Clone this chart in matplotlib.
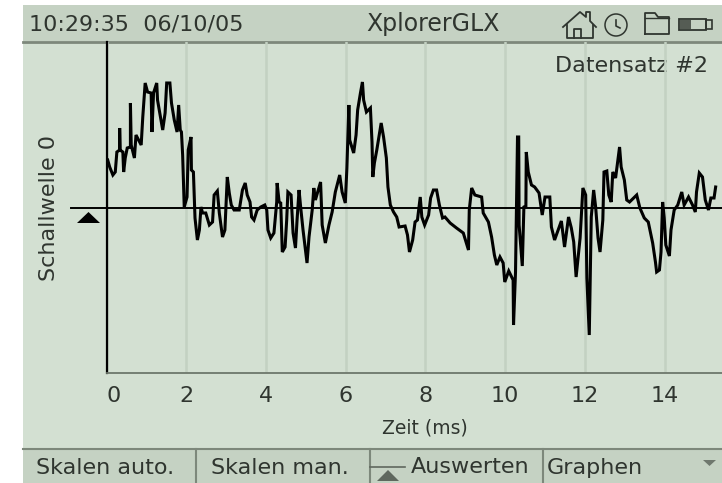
import matplotlib
matplotlib.use('Agg')
import matplotlib.pyplot as plt
from matplotlib.patches import Rectangle, Polygon, Circle

zeit_ms = [0.00, 0.05, 0.13, 0.19, 0.23, 0.30, 0.30, 0.31, 0.38, 0.40, 0.44, 0.49, 0.57, 0.57, 0.59, 0.67,
           0.71, 0.84, 0.88, 0.94, 1.00, 1.09, 1.11, 1.15, 1.23, 1.25, 1.38, 1.44, 1.48, 1.56, 1.60, 1.67,
           1.74, 1.78, 1.82, 1.85, 1.88, 1.92, 1.99, 2.02, 2.09, 2.10, 2.15, 2.19, 2.25, 2.30, 2.34, 2.38,
           2.46, 2.55, 2.63, 2.67, 2.75, 2.80, 2.88, 2.94, 2.99, 3.00, 3.05, 3.10, 3.17, 3.30, 3.38, 3.45,
           3.50, 3.57, 3.61, 3.67, 3.75, 3.84, 3.94, 3.99, 4.02, 4.09, 4.17, 4.24, 4.25, 4.30, 4.34, 4.38,
           4.45, 4.49, 4.52, 4.60, 4.65, 4.71, 4.75, 4.80, 4.84, 4.90, 5.00, 5.05, 5.13, 5.17, 5.21, 5.34,
           5.38, 5.46, 5.55, 5.63, 5.71, 5.82, 5.88, 5.96, 6.00, 6.05, 6.07, 6.17, 6.23, 6.27, 6.34, 6.39,
           6.42, 6.49, 6.59, 6.63, 6.65, 6.69, 6.75, 6.86, 6.92, 6.99, 7.03, 7.09, 7.17, 7.25, 7.31, 7.46,
           7.52, 7.57, 7.65, 7.71, 7.77, 7.84, 7.88, 7.95, 8.05, 8.10, 8.17, 8.25, 8.32, 8.40, 8.46, 8.59,
           8.75, 8.92, 9.05, 9.07, 9.13, 9.21, 9.38, 9.42, 9.55, 9.63, 9.70, 9.76, 9.84, 9.92, 9.96, 10.06,
           10.17, 10.18, 10.23, 10.28, 10.31, 10.32, 10.40, 10.44, 10.49, 10.50, 10.55, 10.63, 10.71, 10.82,
           10.90, 10.97, 11.06, 11.09, 11.13, 11.21, 11.30, 11.38, 11.46, 11.56, 11.63, 11.69, 11.75, 11.80,
           11.85, 11.92, 11.99, 12.02, 12.08, 12.13, 12.19, 12.24, 12.30, 12.35, 12.42, 12.45, 12.52, 12.57,
           12.63, 12.67, 12.74, 12.84, 12.88, 12.96, 13.02, 13.09, 13.27, 13.35, 13.46, 13.56, 13.67, 13.74,
           13.77, 13.84, 13.88, 13.92, 13.96, 14.00, 14.09, 14.13, 14.21, 14.30, 14.40, 14.46, 14.57, 14.67,
           14.74, 14.77, 14.84, 14.92, 14.99, 15.07, 15.13, 15.21, 15.25]
schallwelle = [48, 41, 33, 36, 56, 58, 80, 58, 56, 36, 50, 60, 61, 105, 63, 50,
               73, 63, 91, 125, 116, 115, 76, 115, 125, 108, 78, 95, 125, 125, 105, 88,
               76, 103, 78, 76, 53, 1, 11, 58, 71, 38, 36, -10, -32, -22, 1, -5,
               -5, -17, -14, 13, 17, -5, -29, -22, 21, 31, 15, 3, -2, -2, 18, 25,
               13, 6, -9, -12, -2, 1, 3, -2, -22, -30, -25, 6, 25, 6, 5, -44,
               -39, -12, 16, 13, -25, -40, -12, 18, 1, -22, -55, -29, -2, 20, 8, 26,
               -17, -35, -17, -4, 16, 33, 16, 5, 40, 103, 68, 55, 73, 98, 115, 126,
               108, 96, 100, 66, 31, 45, 58, 85, 71, 50, 21, 3, -4, -9, -19, -18,
               -27, -44, -32, -14, -12, 11, -9, -17, -7, 10, 18, 18, 3, -10, -9, -15,
               -20, -25, -42, -2, 20, 13, 11, -5, -14, -29, -47, -57, -49, -55, -74, -63,
               -72, -117, -64, 71, 71, -17, -58, 1, 2, 56, 36, 23, 21, 15,
               -7, 11, 11, 11, -19, -32, -22, -13, -39, -9, -20, -34, -69, -49,
               -30, 20, 13, -70, -127, -9, 18, 1, -30, -44, -12, 36, 37, 13,
               6, 36, 30, 61, 41, 28, 8, 6, 13, 0, -10, -14, -35, -54,
               -64, -62, -44, 6, -10, -37, -48, -22, -2, 3, 16, 3, 11, 3,
               -4, 16, 35, 31, 8, -2, 10, 10, 21]
x_ticks = [0, 2, 4, 6, 8, 10, 12, 14]

PANEL = '#d3e0d2'
BAR = '#c5d2c3'
EDGE = '#7d887b'
TEXT = '#2f352f'
W, H = 722, 483
FS = 16
PX_MS = 39.93  # Pixel pro ms
T0 = 105.5  # Pixel von t=0
VERSATZ = 0.03  # Kurve beginnt knapp rechts vom Nullpunkt

plt.rcParams['font.family'] = ['DejaVu Sans']
fig = plt.figure(figsize=(W / 100, H / 100), dpi=100, facecolor='white')

# Geraeterahmen in Pixelkoordinaten
ui = fig.add_axes([0, 0, 1, 1])
ui.set_xlim(0, W)
ui.set_ylim(H, 0)
ui.axis('off')
ui.add_patch(Rectangle((23, 5), W - 23, H - 5, fc=PANEL, ec='none'))
ui.add_patch(Rectangle((23, 5), W - 23, 36, fc=BAR, ec='none'))
ui.add_patch(Rectangle((23, 449), W - 23, H - 449, fc=BAR, ec='none'))
ui.plot([23, W], [41.5, 41.5], color=EDGE, lw=2)
ui.plot([23, W], [448.5, 448.5], color=EDGE, lw=1.5)
for xd in [196, 370, 543]:
    ui.plot([xd, xd], [449, H], color=EDGE, lw=1.5)

ui.text(29, 24, '10:29:35  06/10/05', fontsize=FS, color=TEXT, va='center', ha='left')
ui.text(433, 24, 'XplorerGLX', fontsize=FS + 1, color=TEXT, va='center', ha='center')
ui.text(36, 468, 'Skalen auto.', fontsize=FS, color=TEXT, va='center')
ui.text(211, 468, 'Skalen man.', fontsize=FS, color=TEXT, va='center')
ui.text(411, 467, 'Auswerten', fontsize=FS, color=TEXT, va='center')
ui.text(547, 468, 'Graphen', fontsize=FS, color=TEXT, va='center')
ui.plot([370, 405], [466.5, 466.5], color='#5f685e', lw=1.2)
ui.add_patch(Polygon([[377, 481], [399, 481], [388, 470]], fc='#5f685e', ec='none'))
ui.add_patch(Polygon([[703, 460], [716, 460], [709.5, 466]], fc='#6f786e', ec='none'))
ui.add_patch(Polygon([[77, 223], [100, 223], [88.5, 212]], fc='black', ec='none'))

# Symbole oben rechts
ui.plot([563, 580, 586, 586, 590, 590, 596], [27, 12, 17, 12, 12, 21, 27], color=TEXT, lw=1.3)
ui.plot([567, 567, 593, 593], [25, 38, 38, 25], color=TEXT, lw=1.3)
ui.plot([574, 574, 581, 581], [38, 29, 29, 38], color=TEXT, lw=1.3)
ui.add_patch(Circle((616, 25), 11, fc='none', ec=TEXT, lw=1.1))
ui.plot([616, 616, 620], [20, 26, 28], color=TEXT, lw=1.2)
ui.plot([645, 645, 655, 658, 669, 669, 645], [34, 13, 13, 17, 17, 34, 34], color=TEXT, lw=1.3)
ui.plot([645, 669], [18, 18], color=TEXT, lw=1)
ui.add_patch(Rectangle((679, 19), 27, 11, fc='none', ec=TEXT, lw=1.3))
ui.add_patch(Rectangle((680, 20), 11, 9, fc='#555c54', ec='none'))
ui.add_patch(Rectangle((706, 20), 6, 9, fc='none', ec=TEXT, lw=1.2))

# Diagramm
ax = fig.add_axes([106.5 / W, 1 - 373 / H, (W - 106.5) / W, (373 - 42) / H])
ax.patch.set_alpha(0)
ax.set_xlim((106.5 - T0) / PX_MS, (W - T0) / PX_MS)
ax.set_ylim(-165, 166)
ax.set_xticks(x_ticks)
ax.set_yticks([])
ax.tick_params(axis='x', length=0, pad=9, labelsize=FS, labelcolor=TEXT)
ax.grid(axis='x', color='#c3d1c2', lw=1.8, zorder=0)
ax.set_axisbelow(True)
for s in ['top', 'right']:
    ax.spines[s].set_visible(False)
ax.spines['left'].set_color('black')
ax.spines['left'].set_linewidth(1.6)
ax.spines['bottom'].set_color('#6d776c')
ax.spines['bottom'].set_linewidth(1.3)
ax.axhline(0, xmin=-35.5 / (W - 106.5), xmax=1, color='black', lw=1.4, clip_on=False, zorder=3)
ax.plot([t + VERSATZ for t in zeit_ms], schallwelle, color='black', lw=2.2, solid_joinstyle='miter', zorder=4)

ax.get_xticklabels()[0].set_ha('left')
ui.text(708, 66, 'Datensatz #2', ha='right', va='center', fontsize=FS, color=TEXT,
        bbox=dict(fc=PANEL, ec='none', pad=3), zorder=5)
ui.text(425, 428, 'Zeit (ms)', ha='center', va='center', fontsize=13.5, color=TEXT)
ui.text(49, 208, 'Schallwelle 0', rotation=90, ha='center', va='center', fontsize=FS, color=TEXT)

fig.savefig('out.png', dpi=100)
